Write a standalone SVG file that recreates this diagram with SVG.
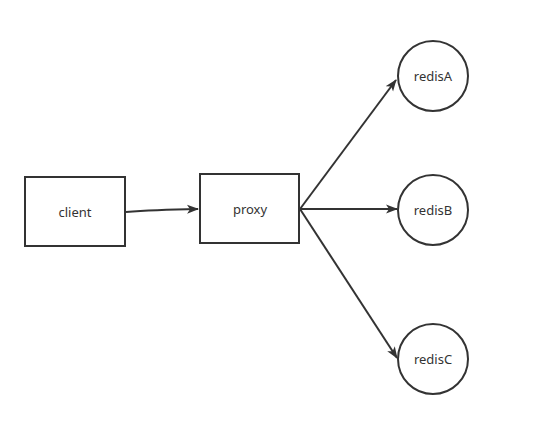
<svg xmlns="http://www.w3.org/2000/svg" width="538" height="422" viewBox="0 0 538 422">
<defs>
<style>
.box{fill:#fff;stroke:#333;stroke-width:2}
.lbl{font-family:"Noto Sans","Open Sans",sans-serif;font-size:13px;fill:#333;text-anchor:middle;dominant-baseline:central}
.edge{fill:none;stroke:#333;stroke-width:2}
</style>
<marker id="arr" markerWidth="12" markerHeight="10" refX="11" refY="5" orient="auto" markerUnits="userSpaceOnUse">
<path d="M0,0.5 L12,5 L0,9.5 L3,5 Z" fill="#333"/>
</marker>
</defs>
<rect width="538" height="422" fill="#fff"/>
<g id="connectors">
<path class="edge" d="M126,212 C150,210 170,209.5 198,209" marker-end="url(#arr)"/>
<path class="edge" d="M300,209 L396,80" marker-end="url(#arr)"/>
<path class="edge" d="M300,209 L397,209" marker-end="url(#arr)"/>
<path class="edge" d="M300,209 L397,358" marker-end="url(#arr)"/>
</g>
<g id="client"><rect class="box" x="25" y="177" width="100" height="69"/><text class="lbl" x="75" y="212">client</text></g>
<g id="proxy"><rect class="box" x="200" y="174" width="99" height="69"/><text class="lbl" x="250" y="209">proxy</text></g>
<g id="redisA"><circle class="box" cx="433" cy="76" r="35"/><text class="lbl" x="433" y="76">redisA</text></g>
<g id="redisB"><circle class="box" cx="433" cy="210" r="35"/><text class="lbl" x="433" y="210">redisB</text></g>
<g id="redisC"><circle class="box" cx="433" cy="359" r="35"/><text class="lbl" x="433" y="359">redisC</text></g>
</svg>
